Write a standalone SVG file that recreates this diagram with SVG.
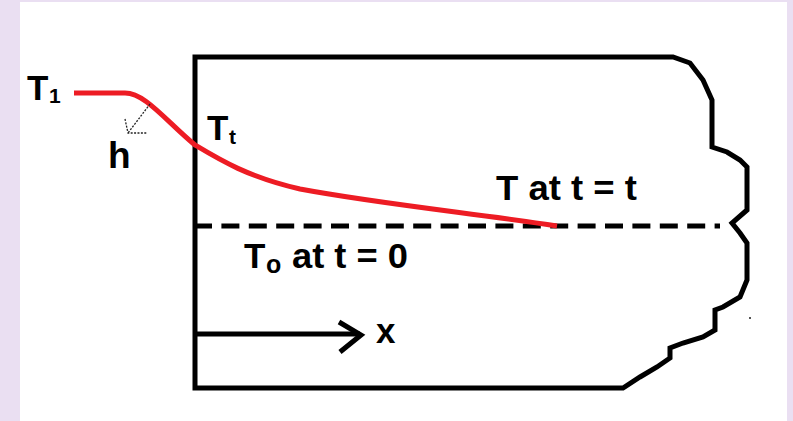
<svg xmlns="http://www.w3.org/2000/svg" width="793" height="421" viewBox="0 0 793 421">
  <style>
    .lbl { font-family: "Liberation Sans", Arial, sans-serif; font-weight: bold; fill: #000; }
    .big { font-size: 35px; }
    .sub { font-size: 21px; }
    .wall { fill: none; stroke: #000; stroke-width: 5; stroke-linejoin: miter; }
    .red { fill: none; stroke: #ED1C24; stroke-width: 5; stroke-linecap: butt; stroke-linejoin: round; }
    .dash { fill: none; stroke: #000; stroke-width: 5; stroke-dasharray: 18 9.4; }
    .arrow { fill: none; stroke: #000; stroke-width: 5; stroke-linecap: butt; stroke-linejoin: miter; }
    .thin { fill: none; stroke: #222; stroke-width: 1.3; stroke-dasharray: 2 1.4; }
  </style>
  <rect x="0" y="0" width="793" height="421" fill="#EADFF2"/>
  <rect x="20" y="2" width="767" height="419" fill="#FFFFFF"/>

  <g id="slab">
    <path class="wall" d="M195,57 V388 H623 L640,377 L657,367 L670,358 V348 L683,343 L703,337 L715,330 V310 L723,307 L740,297 L747,280 V243 L740,233 L732,223 L747,210 V167 L740,160 L727,152 L712,147 V100 L703,80 L690,63 L673,57 Z"/>
    <rect x="749" y="317" width="2" height="2" fill="#555"/>
  </g>

  <g id="initial-line">
    <line class="dash" x1="194" y1="226" x2="720" y2="226"/>
  </g>

  <g id="profile">
    <path class="red" d="M74,93 H125 C145,93 165,120 195,145 C220,160 248,177 300,189 C380,204 480,214 557,226"/>
  </g>

  <g id="connectors">
    <path class="arrow" d="M195,334 H360"/>
    <path class="arrow" d="M339,322 L361,335 L340,352"/>
    <path class="thin" d="M150,104 L128,133 M125,119 L128,133 L147,133"/>
  </g>

  <g id="label-T1">
    <text class="lbl big" x="27" y="100">T</text>
    <text class="lbl sub" x="49" y="103">1</text>
  </g>
  <g id="label-h">
    <text class="lbl" font-size="37" x="108" y="168">h</text>
  </g>
  <g id="label-Tt">
    <text class="lbl big" x="207" y="140">T</text>
    <text class="lbl sub" x="229" y="144">t</text>
  </g>
  <g id="label-T-at-t">
    <text class="lbl big" x="496" y="200" textLength="141" lengthAdjust="spacingAndGlyphs">T at t = t</text>
  </g>
  <g id="label-To">
    <text class="lbl big" x="244" y="268">T</text>
    <text class="lbl" font-size="25" x="266" y="273">o</text>
    <text class="lbl big" x="292" y="268" textLength="116" lengthAdjust="spacingAndGlyphs">at t = 0</text>
  </g>
  <g id="label-x">
    <text class="lbl big" x="376" y="343">x</text>
  </g>
</svg>
